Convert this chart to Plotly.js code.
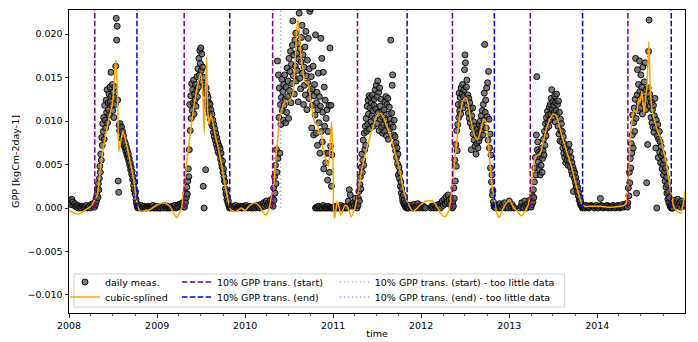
<!DOCTYPE html>
<html><head><meta charset="utf-8">
<script src="https://cdn.plot.ly/plotly-3.0.1.min.js"></script>
<style>html,body{margin:0;padding:0;background:#fff}#chart{width:698px;height:342px}</style>
</head><body><div id="chart"></div>
<script>
// ---- data (GPP in kgC m-2 day-1) ----
// daily measurements: segments = [start day since 2008-01-01, step in days, values]
const win2007_08 = [.0006,.0009,.0004,.0010,.0007,.0003,.0005,.0002,.0001,.0003,.0000,.0002,.0001,.0000,.0002,.0001,.0000,.0001,.0003,.0000,.0001,.0002,.0000,.0004,.0002,.0005];
const gpp2008 = [.0003,.0001,.0006,.0004,.0011,.0008,.0015,.0022,.0012,.0028,
.0021,.0034,.0048,.0041,.0062,.0055,.0081,.0072,.0097,.0088,
.0104,.0079,.0118,.0101,.0092,.0124,.0110,.0136,.0098,.0121,
.0113,.0131,.0107,.0139,.0122,.0156,.0129,.0118,.0142,.0112,
.0133,.0104,.0127,.0139,.0119,.0163,.0218,.0193,.0209,.0124,
.0031,.0018,.0095,.0089,.0097,.0091,.0085,.0093,.0080,.0088,
.0078,.0083,.0072,.0077,.0069,.0074,.0065,.0070,.0061,.0066,
.0058,.0062,.0054,.0057,.0049,.0052,.0044,.0047,.0039,.0042,
.0033,.0036,.0026,.0021,.0030,.0016,.0019,.0010,.0006,.0003,
.0001,.0000];
const win2008_09 = [.0002,.0001,.0000,.0003,.0001,.0000,.0002,.0000,.0001,.0000,.0002,.0001,.0000,.0000,.0001,.0003,.0000,.0001,.0000,.0002,.0000,.0001,.0000,.0000,.0002,.0001,.0000,.0003,.0001,.0000,.0002,.0000,.0001,.0000,.0001,.0002,.0000,.0001,.0003,.0000,.0002,.0001,.0004,.0002,.0005,.0003,.0006];
const gpp2009 = [.0002,.0004,.0001,.0009,.0006,.0017,.0012,.0024,.0016,.0031,
.0045,.0036,.0067,.0119,.0089,.0129,.0103,.0143,.0112,.0136,
.0121,.0147,.0108,.0131,.0124,.0142,.0117,.0135,.0151,.0128,
.0160,.0139,.0172,.0153,.0181,.0166,.0184,.0158,.0177,.0145,
.0162,.0025,.0150,.0000,.0141,.0132,.0044,.0138,.0122,.0131,
.0117,.0127,.0113,.0121,.0108,.0119,.0102,.0113,.0097,.0108,
.0094,.0101,.0087,.0096,.0082,.0091,.0078,.0086,.0073,.0081,
.0069,.0076,.0064,.0072,.0071,.0062,.0068,.0056,.0063,.0051,
.0047,.0054,.0041,.0045,.0036,.0031,.0030,.0022,.0016,.0019,
.0010,.0013,.0006,.0008,.0003,.0001,.0000];
const win2009_10 = [.0001,.0000,.0002,.0000,.0001,.0003,.0000,.0001,.0000,.0002,.0001,.0000,.0000,.0002,.0001,.0000,.0003,.0001,.0000,.0001,.0002,.0000,.0001,.0000,.0002,.0001,.0000,.0003,.0001,.0002,.0000,.0004,.0001,.0003,.0006,.0002,.0005,.0008,.0003,.0006,.0004,.0009,.0005];
const gpp2010 = [.0004,.0011,.0002,.0023,.0009,.0036,.0017,.0049,.0028,.0067,
.0041,.0169,.0057,.0153,.0104,.0138,.0063,.0119,.0096,.0127,
.0148,.0112,.0134,.0101,.0142,.0118,.0153,.0125,.0098,.0139,
.0110,.0161,.0128,.0146,.0103,.0172,.0135,.0157,.0180,.0121,
.0165,.0143,.0187,.0215,.0152,.0176,.0131,.0193,.0163,.0201,
.0146,.0178,.0158,.0189,.0122,.0171,.0224,.0149,.0183,.0137,
.0168,.0196,.0210,.0155,.0176,.0119,.0162,.0141,.0185,.0130,
.0203,.0152,.0113,.0170,.0144,.0195,.0126,.0160,.0226,.0134,
.0229,.0151,.0092,.0137,.0118,.0163,.0084,.0129,.0142,.0107,
.0199,.0086,.0121,.0133,.0072,.0113,.0155,.0098,.0128,.0063,
.0117,.0195,.0088,.0172,.0076,.0110,.0156,.0045,.0139,.0094,
.0124,.0052,.0103,.0063,.0113,.0032,.0088,.0063,.0118,.0041,
.0184,.0071,.0118,.0025,.0061];
const win2010_11 = [.0000,.0001,.0000,.0002,.0000,.0000,.0001,.0000,.0003,.0000,.0001,.0000,.0000,.0002,.0000,.0001,.0000,.0000,.0001,.0000,.0002,.0000,.0001,.0000,.0000,.0001,.0003,.0000,.0001,.0000,.0002,.0000,.0001,.0000,.0008,.0021,.0015,.0004,.0002,.0006,.0003,.0011,.0005];
const gpp2011 = [.0002,.0000,.0005,.0003,.0011,.0019,.0008,.0027,.0036,.0022,
.0047,.0062,.0041,.0055,.0078,.0049,.0086,.0067,.0094,.0072,
.0103,.0088,.0117,.0096,.0124,.0108,.0129,.0091,.0115,.0127,
.0099,.0121,.0106,.0130,.0112,.0094,.0118,.0125,.0103,.0136,
.0114,.0141,.0097,.0128,.0146,.0110,.0133,.0089,.0138,.0117,
.0102,.0125,.0093,.0111,.0086,.0104,.0096,.0113,.0088,.0122,
.0101,.0128,.0083,.0119,.0095,.0126,.0079,.0108,.0116,.0091,
.0102,.0193,.0097,.0109,.0141,.0153,.0093,.0084,.0101,.0072,
.0082,.0066,.0075,.0058,.0069,.0051,.0062,.0038,.0047,.0034,
.0041,.0025,.0030,.0017,.0022,.0012,.0008,.0015,.0005,.0009,
.0003,.0006,.0001,.0004,.0000,.0002,.0000];
const win2011_12a = [.0001,.0000,.0003,.0001,.0000,.0002,.0004,.0001,.0000,.0002,.0005,.0001,.0000,.0003,.0001,.0000,.0002,.0001,.0000];
const win2011_12b = [.0000,.0002,.0001,.0000,.0003,.0001,.0000,.0002,.0004,.0001,.0000,.0006,.0008,.0003,.0010,.0005,.0013,.0007,.0015,.0009,.0004,.0011];
const gpp2012 = [.0003,.0000,.0007,.0002,.0023,.0011,.0055,.0031,.0073,.0048,
.0089,.0066,.0096,.0119,.0104,.0132,.0112,.0127,.0108,.0138,
.0119,.0131,.0142,.0115,.0128,.0136,.0159,.0176,.0167,.0124,
.0139,.0147,.0118,.0130,.0109,.0126,.0103,.0121,.0098,.0114,
.0067,.0106,.0093,.0115,.0085,.0099,.0078,.0094,.0071,.0088,
.0062,.0083,.0074,.0091,.0069,.0086,.0077,.0095,.0081,.0100,
.0088,.0106,.0094,.0112,.0084,.0119,.0101,.0132,.0188,.0110,
.0124,.0092,.0138,.0105,.0144,.0078,.0157,.0102,.0069,.0085,
.0046,.0061,.0030,.0038,.0015,.0020,.0007,.0003,.0001];
const win2012_13a = [.0001,.0000,.0003,.0002,.0000,.0005,.0001,.0000,.0004,.0002,.0006,.0000,.0001,.0003,.0000,.0008,.0002,.0000,.0004,.0001,.0000];
const win2012_13b = [.0000,.0002,.0006,.0001,.0000,.0008,.0003,.0000,.0005,.0002,.0009];
const gpp2013 = [.0002,.0005,.0001,.0009,.0004,.0014,.0007,.0021,.0012,.0030,
.0046,.0058,.0038,.0084,.0151,.0067,.0076,.0053,.0064,.0045,
.0059,.0038,.0062,.0049,.0069,.0041,.0057,.0066,.0079,.0061,
.0088,.0072,.0097,.0083,.0104,.0092,.0111,.0098,.0107,.0094,
.0116,.0101,.0119,.0108,.0126,.0136,.0113,.0122,.0104,.0118,
.0110,.0129,.0099,.0121,.0112,.0131,.0107,.0119,.0094,.0123,
.0085,.0110,.0077,.0102,.0089,.0097,.0076,.0088,.0069,.0082,
.0063,.0074,.0058,.0070,.0052,.0066,.0061,.0055,.0068,.0049,
.0060,.0073,.0054,.0065,.0047,.0058,.0042,.0052,.0038,.0047,
.0019,.0043,.0034,.0040,.0029,.0035,.0024,.0030,.0019,.0024,
.0014,.0018,.0009,.0012,.0005,.0008,.0003,.0004,.0001,.0000];
const win2013_14 = [.0001,.0002,.0000,.0003,.0001,.0002,.0000,.0001,.0003,.0002,.0002,.0001,.0000,.0002,.0003,.0001,.0000,.0002,.0011,.0003,.0002,.0000,.0001,.0002,.0001,.0003,.0000,.0002,.0001,.0000,.0002,.0003,.0001,.0000,.0002,.0001,.0003,.0002,.0000,.0001,.0002,.0004,.0001,.0003,.0002,.0005];
const gpp2014 = [.0001,.0006,.0023,.0014,.0041,.0029,.0057,.0046,.0074,.0063,
.0084,.0107,.0069,.0098,.0115,.0088,.0125,.0172,.0103,.0017,
.0130,.0159,.0112,.0142,.0121,.0169,.0134,.0115,.0153,.0127,
.0139,.0108,.0162,.0132,.0119,.0145,.0126,.0167,.0113,.0136,
.0029,.0124,.0073,.0138,.0180,.0216,.0131,.0117,.0126,.0104,
.0121,.0098,.0113,.0093,.0118,.0087,.0106,.0126,.0092,.0069,
.0101,.0000,.0083,.0096,.0058,.0079,.0088,.0064,.0076,.0052,
.0071,.0060,.0045,.0063,.0050,.0038,.0055,.0042,.0031,.0046,
.0024,.0035,.0017,.0027,.0010,.0019,.0006,.0012,.0004,.0002,
.0001,.0000,.0003,.0000];
const win2014_15 = [.0000,.0004,.0009,.0002,.0007,.0010,.0003,.0006,.0001,.0008,.0005,.0002,.0004];

const measSegments = [
  [0,4,win2007_08],[104,2,gpp2008],[288,4,win2008_09],[475,2,gpp2009],[671,4,win2009_10],
  [843,2,gpp2010],[1023,4,win2010_11],[1193,2,gpp2011],[1407,4,win2011_12a],[1501,4,win2011_12b],
  [1589,2,gpp2012],[1767,4,win2012_13a],[1871,4,win2012_13b],[1913,2,gpp2013],[2133,4,win2013_14],
  [2317,2,gpp2014],[2506,4,win2014_15]
];

// cubic spline curve (days since 2008-01-01, value)
const splineT = [0,36,69,94,107,118,124,138,152,166,180,187,194,201,207,214,224,242,256,270,279,288,297,318,335,346,
369,393,418,435,447,458,467,478,494,508,522,536,546,554,561,565,571,575,581,588,596,606,619,633,647,661,671,693,714,
731,747,772,793,814,828,838,851,858,865,872,880,892,905,917,928,937,944,950,956,963,971,979,991,1000,1011,1021,1031,1038,1046,1054,1067,1077,1085,1090,1095,
1098,1102,1107,1113,1120,1128,1136,1145,1155,1171,1182,1190,1203,1216,1232,1251,1265,1277,1290,1302,1315,1331,1344,1356,1373,1385,1398,1413,1427,1441,1460,
1480,1509,1530,1547,1561,1576,1584,1592,1606,1620,1634,1646,1655,1668,1683,1696,1709,1721,1729,1741,1754,1766,1775,1786,1796,1810,
1828,1844,1864,1876,1890,1906,1920,1931,1940,1954,1968,1989,2010,2023,2044,2065,2086,2107,2128,2140,2161,
2203,2245,2286,2303,2311,2318,2325,2332,2339,2345,2355,2364,2370,2377,2386,2393,2398,2406,2412,2419,2430,2444,2456,2465,2478,2491,2502,2511,2525,2539,2548,2556];
const splineV = [-.0003,-.0007,-.0002,.0003,.0010,.0015,.0030,.0061,.0084,.0103,.0120,.0142,.0170,.0134,.0065,.0075,.0088,.0069,.0050,.0030,.0011,.0000,-.0004,-.0003,-.0002,.0000,
.0004,.0006,.0002,-.0006,-.0011,-.0006,.0000,.0027,.0065,.0096,.0123,.0144,.0155,.0138,.0086,.0120,.0174,.0115,.0096,.0107,.0100,.0084,.0069,.0050,.0027,.0008,-.0002,-.0004,.0000,
-.0003,.0002,.0006,.0001,-.0008,-.0003,.0010,.0030,.0057,.0077,.0095,.0110,.0121,.0123,.0124,.0130,.0160,.0200,.0217,.0200,.0172,.0158,.0145,.0143,.0130,.0110,.0097,.0096,.0085,.0088,.0068,.0055,.0048,.0080,.0099,.0060,
.0000,-.0012,-.0004,.0008,.0002,-.0008,-.0003,.0003,.0002,-.0010,-.0004,.0005,.0023,.0046,.0065,.0084,.0096,.0106,.0109,.0106,.0097,.0085,.0074,.0060,.0043,.0024,.0011,.0002,-.0004,-.0001,.0004,
.0008,.0008,.0000,-.0008,-.0010,-.0003,.0010,.0030,.0069,.0103,.0123,.0127,.0121,.0100,.0083,.0079,.0090,.0102,.0100,.0069,.0030,.0008,-.0006,-.0011,-.0004,.0004,
.0009,.0001,-.0005,-.0009,-.0005,.0004,.0030,.0054,.0060,.0062,.0077,.0098,.0108,.0105,.0084,.0065,.0046,.0023,.0005,.0002,.0002,
.0002,.0001,.0002,.0003,.0005,.0023,.0057,.0090,.0105,.0113,.0109,.0126,.0122,.0134,.0109,.0128,.0140,.0191,.0137,.0113,.0100,.0087,.0080,.0068,.0053,.0030,.0011,.0000,-.0004,-.0006,.0004,.0019];

// 10% GPP transition dates (days since 2008-01-01)
const startT = [107,478,845,1197,1591,1914,2319];
const endT = [282,667,1403,1765,2131,2499];
const startLowT = [];
const endLowT = [878];

const yRange = [-0.01207, 0.02276];
const xRange = ['2008-01-01','2014-12-31'];

// ---- build ----
const T0 = Date.UTC(2008,0,1), DAY = 864e5;
function toDate(t){ return new Date(T0 + t*DAY).toISOString().slice(0,10); }
const measX = [], measY = [];
measSegments.forEach(([s,step,vals]) => vals.forEach((v,i) => { measX.push(toDate(s+i*step)); measY.push(v); }));
function vlines(ts){
  const x=[], y=[];
  ts.forEach(t => { x.push(toDate(t),toDate(t),null); y.push(0,yRange[1],null); });
  if(!x.length){ x.push(null); y.push(null); }
  return {x,y};
}
const vs = vlines(startT), ve = vlines(endT), vsl = vlines(startLowT), vel = vlines(endLowT);

const FONT = 'DejaVu Sans';
const traces = [
  {type:'scatter', mode:'markers', x:measX, y:measY, name:'daily meas.', legend:'legend',
   marker:{size:6, color:'rgba(90,90,90,0.8)', line:{color:'rgba(0,0,0,0.9)', width:1}}},
  {type:'scatter', mode:'lines', x:splineT.map(toDate), y:splineV, name:'cubic-splined', legend:'legend2',
   line:{color:'#ffa500', width:1.5, shape:'spline', smoothing:0.6}},
  {type:'scatter', mode:'lines', x:vs.x, y:vs.y, name:'10% GPP trans. (start)', legend:'legend3',
   line:{color:'#800080', width:1.5, dash:'5.5px,2.4px'}},
  {type:'scatter', mode:'lines', x:ve.x, y:ve.y, name:'10% GPP trans. (end)', legend:'legend4',
   line:{color:'#0000ff', width:1.5, dash:'5.5px,2.4px'}},
  {type:'scatter', mode:'lines', x:vsl.x, y:vsl.y, name:'10% GPP trans. (start) - too little data', legend:'legend5',
   line:{color:'rgba(128,0,128,0.35)', width:1.5, dash:'1.5px,2.5px'}},
  {type:'scatter', mode:'lines', x:vel.x, y:vel.y, name:'10% GPP trans. (end) - too little data', legend:'legend6',
   line:{color:'rgba(0,0,255,0.35)', width:1.5, dash:'1.5px,2.5px'}}
];

// plot area: left 69px, width 616.5px, top 10px, height 303px
function lg(xpx, ypx){
  return {x:(xpx-69)/616.5, y:(313-ypx)/303, xref:'paper', yref:'paper', xanchor:'left', yanchor:'middle',
          bgcolor:'rgba(0,0,0,0)', borderwidth:0, font:{family:FONT, size:9.5, color:'#000'}, itemwidth:30};
}

const layout = {
  width:698, height:342,
  margin:{l:69, r:12.5, t:10, b:29},
  paper_bgcolor:'#fff', plot_bgcolor:'#fff',
  font:{family:FONT, size:9.5, color:'#000'},
  showlegend:true,
  legend:lg(65,282), legend2:lg(65,297), legend3:lg(177,282), legend4:lg(177,297), legend5:lg(335,282), legend6:lg(335,297),
  xaxis:{type:'date', range:xRange, tick0:'2008-01-01', dtick:'M12', tickformat:'%Y', automargin:false,
         ticks:'outside', ticklen:3.5, tickwidth:0.8, tickcolor:'#000',
         minor:{dtick:'M3', ticks:'outside', ticklen:2, tickwidth:0.6, tickcolor:'#000', showgrid:false},
         showgrid:false, zeroline:false, showline:true, mirror:true, linecolor:'#000', linewidth:1,
         title:{text:'time', font:{family:FONT, size:9.5}, standoff:0}},
  yaxis:{range:yRange, tick0:0, dtick:0.005, tickformat:'.3f', automargin:false,
         ticks:'outside', ticklen:3.5, tickwidth:0.8, tickcolor:'#000',
         showgrid:false, zeroline:false, showline:true, mirror:true, linecolor:'#000', linewidth:1,
         title:{text:'GPP [kgCm-2day-1]', font:{family:FONT, size:9.5}, standoff:6}},
  shapes:[{type:'rect', xref:'paper', yref:'paper', layer:'above',
           x0:(74-69)/616.5, x1:(565-69)/616.5, y0:(313-307)/303, y1:(313-274)/303,
           line:{color:'#d0d0d0', width:1}, fillcolor:'rgba(255,255,255,0.85)'}]
};

Plotly.newPlot('chart', traces, layout, {staticPlot:true, displayModeBar:false});
</script></body></html>
